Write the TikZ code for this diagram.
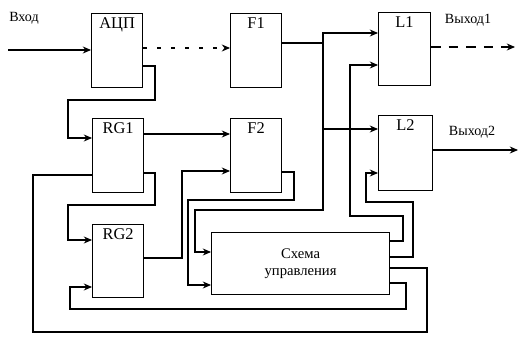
\documentclass[tikz,border=0pt]{standalone}
\usepackage{fontspec}
\setmainfont{Liberation Serif}
\usepackage{tikz}
\usetikzlibrary{arrows.meta, positioning, calc}

\begin{document}
\begin{tikzpicture}[x=0.03cm, y=-0.03cm,
		block/.style={draw, line width=1pt, anchor=north west, inner sep=0pt, minimum width=1.53cm, minimum height=2.22cm},
		blab/.style={anchor=north, font=\fontsize{14}{16}\selectfont, inner sep=0pt, yshift=-4pt},
		io/.style={font=\fontsize{12}{14}\selectfont},
		arr/.style={-{Stealth[length=7pt, width=6pt]}, line width=1pt},
		wire/.style={line width=1pt}]
	\useasboundingbox (0,0) rectangle (520,337);
	% blocks
	\node[block, label={[blab]north:АЦП}] (adc) at (91,13) {};
	\node[block, label={[blab]north:F1}] (f1) at (230,13) {};
	\node[block, minimum width=1.56cm, minimum height=2.19cm, label={[blab]north:L1}] (l1) at (378,12) {};
	\node[block, label={[blab]north:RG1}] (rg1) at (92,118) {};
	\node[block, label={[blab]north:F2}] (f2) at (230,118) {};
	\node[block, minimum width=1.62cm, minimum height=2.25cm, label={[blab]north:L2}] (l2) at (378,115) {};
	\node[block, minimum height=2.19cm, label={[blab]north:RG2}] (rg2) at (92,224) {};
	\node[block, minimum width=5.34cm, minimum height=1.86cm, align=center, font=\fontsize{12.5}{15}\selectfont] (ctrl) at (211,232) {Схема\\управления};
	% inputs and outputs
	\node[io] (vx) at (24,18) {Вход};
	\node[io] (vy1) at (468,20) {Выход1};
	\node[io] (vy2) at (472,132) {Выход2};
	\coordinate (inp) at (8,50);
	\coordinate (out1) at (515,47);
	\coordinate (out2) at (518,150);
	\draw[arr] (inp) -- (adc.west |- inp);
	\draw[arr, dash pattern=on 8pt off 7pt] (l1.east |- out1) -- (out1);
	\draw[arr] (l2.east |- out2) -- (out2);
	% data paths
	\draw[arr, dash pattern=on 3pt off 9pt] (adc.east |- 0,48) -- (f1.west |- 0,48);
	\draw[arr] (adc.east |- 0,66) -- (155,66) |- (68,100) |- (rg1.west |- 0,138);
	\draw[arr] (rg1.east |- 0,134) -- (f2.west |- 0,134);
	\draw[arr] (rg1.east |- 0,173) -- (155,173) |- (68,205) |- (rg2.west |- 0,240);
	\draw[arr] (rg2.east |- 0,258) -- (182,258) |- (f2.west |- 0,171);
	\draw[arr] (f2.east |- 0,172) -- (294,172) |- (188,200) |- (ctrl.west |- 0,285);
	\coordinate (j1) at (323,43);
	\draw[arr] (f1.east |- j1) -- (j1) |- (l1.west |- 0,33);
	\draw[arr] (j1) |- (195,210) |- (ctrl.west |- 0,252);
	\draw[arr] (323,129) -- (l2.west |- 0,129);
	% control paths
	\draw[arr] (ctrl.east |- 0,241) -- (403,241) |- (350,216) |- (l1.west |- 0,65);
	\draw[arr] (ctrl.east |- 0,257) -- (413,257) |- (366,202) |- (l2.west |- 0,173);
	\draw[wire] (ctrl.east |- 0,268) -- (427,268) |- (33,332) |- (rg1.west |- 0,175);
	\draw[arr] (ctrl.east |- 0,283) -- (406,283) |- (70,309) |- (rg2.west |- 0,287);
\end{tikzpicture}
\end{document}
